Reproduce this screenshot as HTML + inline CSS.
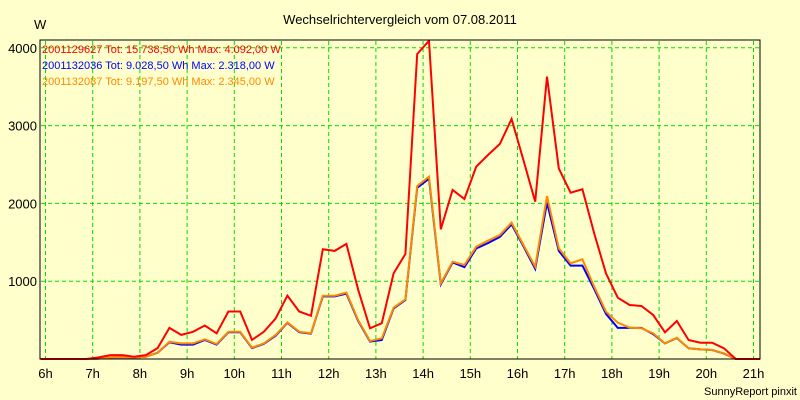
<!DOCTYPE html>
<html><head><meta charset="utf-8"><style>
body{margin:0;background:#ffffcc;}
svg{display:block;font-family:"Liberation Sans",sans-serif;}
</style></head><body>
<svg width="800" height="400" viewBox="0 0 800 400">
<rect x="0" y="0" width="800" height="400" fill="#ffffcc"/>
<text x="400" y="24" text-anchor="middle" font-size="13" fill="#000">Wechselrichtervergleich vom 07.08.2011</text>
<text x="34" y="29" font-size="13" fill="#000">W</text>
<text x="797" y="395" text-anchor="end" font-size="11" fill="#000">SunnyReport pinxit</text>
<g id="grid"></g>
<g id="axes"></g>
<g id="legend"></g>
<defs><clipPath id="clip"><rect x="40" y="40" width="720" height="320"/></clipPath></defs>
<g id="series" clip-path="url(#clip)"></g>
<rect x="40" y="40" width="720" height="319" fill="none" stroke="#000" stroke-width="1"/>
</svg>
<script>
const xTickLabels=["6h","7h","8h","9h","10h","11h","12h","13h","14h","15h","16h","17h","18h","19h","20h","21h"];
const yTickValues=[1000,2000,3000,4000];
const redValues=[0,0,0,0,20,50,50,30,50,140,400,310,350,430,330,610,610,245,350,520,815,610,555,1410,1390,1480,890,395,460,1100,1350,3920,4090,1667,2173,2057,2472,2622,2764,3085,2558,2022,3630,2450,2138,2181,1615,1100,788,694,681,566,343,488,244,210,210,137,0,0];
const blueValues=[0,0,0,0,5,20,25,20,30,80,215,185,185,245,185,345,345,140,195,300,465,345,325,805,805,840,490,225,244,650,760,2200,2318,960,1240,1180,1420,1490,1570,1730,1450,1160,2010,1390,1200,1200,900,580,400,400,400,320,200,270,137,124,116,70,0,0];
const orangeValues=[0,0,0,0,5,20,25,20,30,80,223,200,200,253,193,351,351,146,200,308,471,351,330,814,814,853,500,231,266,660,767,2224,2345,973,1251,1208,1444,1521,1594,1753,1466,1187,2095,1423,1230,1281,930,608,467,403,394,330,201,274,137,124,116,73,0,0];
const legendTexts=["2001129627 Tot: 15.738,50 Wh Max: 4.092,00 W","2001132036 Tot: 9.028,50 Wh Max: 2.318,00 W","2001132087 Tot: 9.197,50 Wh Max: 2.345,00 W"];
const NS="http://www.w3.org/2000/svg";
function xs(h){return 45.5+(h-6)*47.2;}
function ys(v){return 359-v*0.0778;}
function tAt(i){return 6.125+0.25*i;}
function mk(tag,attrs,parent){const e=document.createElementNS(NS,tag);for(const k in attrs)e.setAttribute(k,attrs[k]);parent.appendChild(e);return e;}
const grid=document.getElementById('grid'),axes=document.getElementById('axes'),legend=document.getElementById('legend'),series=document.getElementById('series');
xTickLabels.forEach((lab,i)=>{const x=xs(6+i);
 const l=mk('line',{x1:x,x2:x,y1:41,y2:359,stroke:'#00dd00','stroke-dasharray':'4,3','stroke-width':1},grid);
 
 
 const t=mk('text',{x:x,y:378,'text-anchor':'middle','font-size':13,fill:'#000'},axes);t.textContent=lab;
 
 
});
yTickValues.forEach(v=>{const y=ys(v);
 const l=mk('line',{x1:41,x2:760,y1:y,y2:y,stroke:'#00dd00','stroke-dasharray':'4,3','stroke-width':1},grid);
 
 
 const t=mk('text',{x:37,y:y+5,'text-anchor':'end','font-size':13,fill:'#000'},axes);t.textContent=v;
 
 
});
function pts(vals){const p=[[xs(5.9),ys(0)]];vals.forEach((v,i)=>p.push([xs(tAt(i)),ys(v)]));p.push([xs(21.2),ys(0)]);return p.map(a=>a[0].toFixed(1)+','+a[1].toFixed(1)).join(' ');}
[[blueValues,'#0000ff','series-2001132036'],[orangeValues,'#ff8800','series-2001132087'],[redValues,'#ff0000','series-2001129627']].forEach(s=>{
 const pl=mk('polyline',{points:pts(s[0]),fill:'none',stroke:s[1],'stroke-width':2,'stroke-linejoin':'miter'},series);
 
 
});
const lc=['#ff0000','#0000ff','#ff8800'];
legendTexts.forEach((tx,i)=>{const t=mk('text',{x:42,y:53+i*16,'font-size':11,fill:lc[i]},legend);t.textContent=tx;
 
 
});
</script>
</body></html>
